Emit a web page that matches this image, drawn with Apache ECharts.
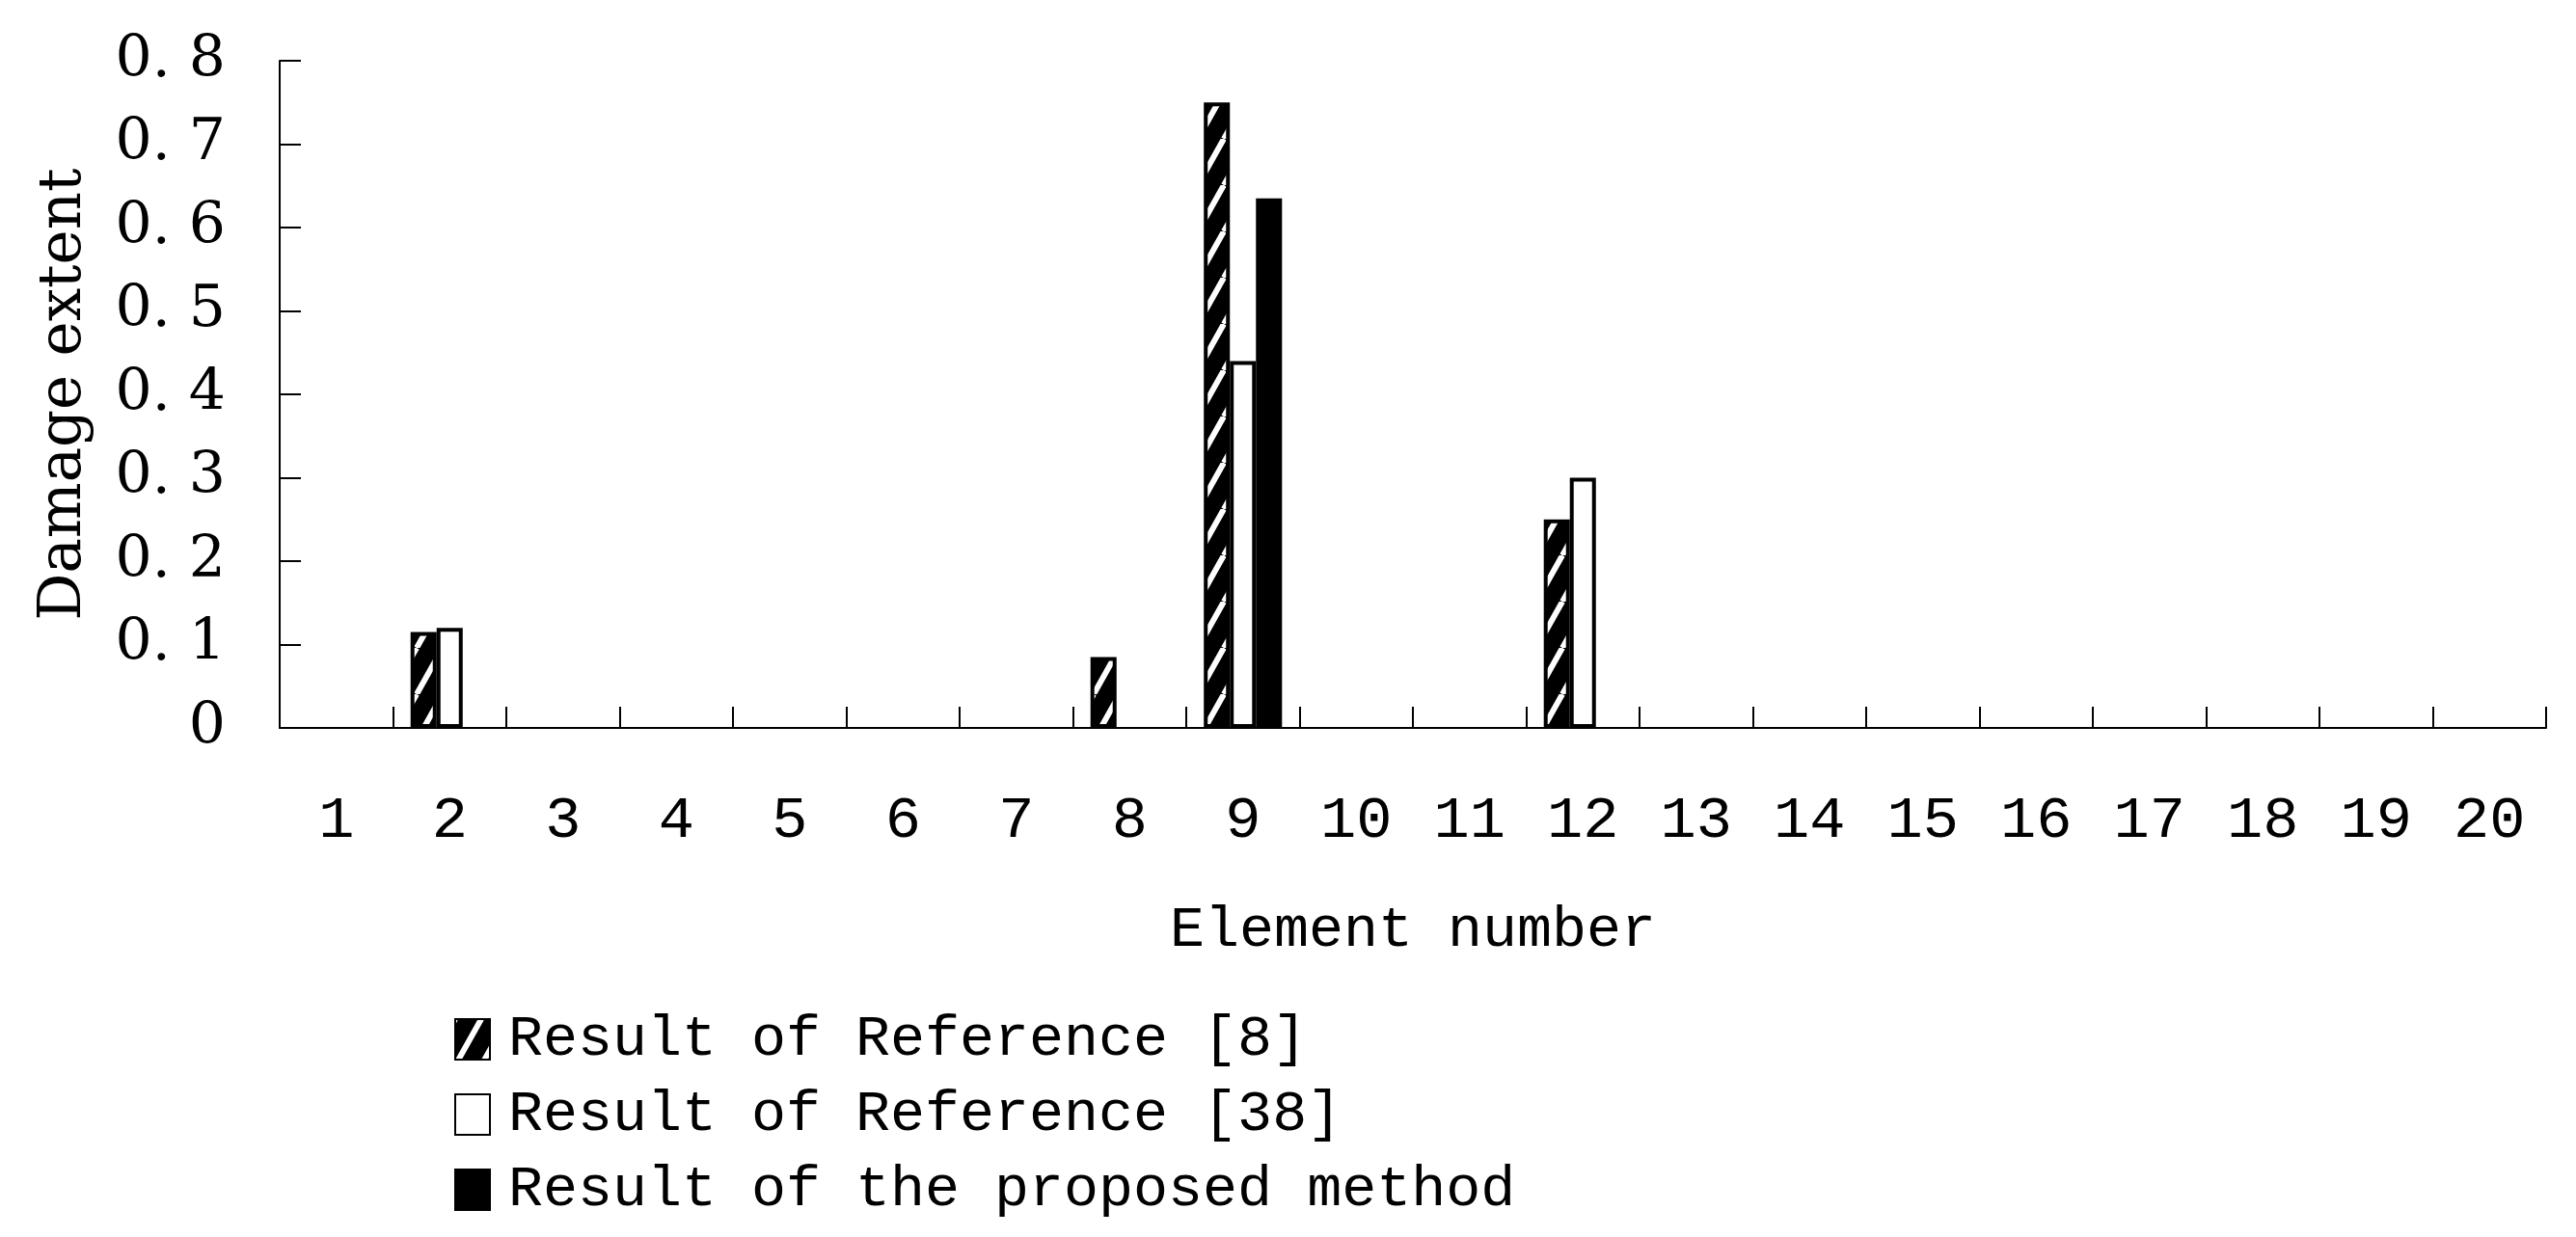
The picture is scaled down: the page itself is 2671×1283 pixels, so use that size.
<!DOCTYPE html>
<html>
<head>
<meta charset="utf-8">
<script src="https://cdn.jsdelivr.net/npm/echarts@6/dist/echarts.min.js"></script>
<style>
html,body{margin:0;padding:0;background:#fff;}
#chart{width:2671px;height:1283px;}
</style>
</head>
<body>
<div id="chart"></div>
<script>
const categories = ['1','2','3','4','5','6','7','8','9','10','11','12','13','14','15','16','17','18','19','20'];
const seriesNames = ['Result of Reference [8]', 'Result of Reference [38]', 'Result of the proposed method'];
const ref8 =     [0, 0.115, 0, 0, 0, 0, 0, 0.085, 0.75, 0, 0, 0.25, 0, 0, 0, 0, 0, 0, 0, 0];
const ref38 =    [0, 0.12,  0, 0, 0, 0, 0, 0,     0.44, 0, 0, 0.30, 0, 0, 0, 0, 0, 0, 0, 0];
const proposed = [0, 0,     0, 0, 0, 0, 0, 0,     0.635,0, 0, 0,    0, 0, 0, 0, 0, 0, 0, 0];
const yTicks = { min: 0, max: 0.8, interval: 0.1 };
const xName = 'Element number';
const yName = 'Damage extent';

// zero-valued bars are not drawn (no outline on the axis)
const visible = arr => arr.map(v => (v === 0 ? '-' : v));

function makeHatch() {
  const c = document.createElement('canvas');
  c.width = 27; c.height = 48;
  const g = c.getContext('2d');
  g.fillStyle = '#000';
  g.fillRect(0, 0, 27, 48);
  g.strokeStyle = '#fff';
  g.lineWidth = 6;
  g.beginPath();
  for (let k = -1; k <= 1; k++) {
    g.moveTo(0 + k * 27, 48);
    g.lineTo(27 + k * 27, 0);
  }
  g.stroke();
  return c;
}
const hatch = { image: makeHatch(), repeat: 'repeat' };

const monoFont = '"Liberation Mono", "DejaVu Sans Mono", monospace';
const serifFont = '"DejaVu Serif", "Liberation Serif", serif';

const chart = echarts.init(document.getElementById('chart'), null, { renderer: 'canvas' });
chart.setOption({
  animation: false,
  backgroundColor: '#fff',
  grid: { left: 290, right: 31, top: 63, bottom: 528, containLabel: false },
  legend: {
    orient: 'vertical',
    left: 466,
    top: 1043,
    icon: 'rect',
    itemWidth: 36,
    itemHeight: 42,
    itemGap: 18,
    data: seriesNames,
    textStyle: { fontFamily: monoFont, fontSize: 60, color: '#000', padding: [0, 0, 0, 14] }
  },
  xAxis: {
    type: 'category',
    data: categories,
    name: xName,
    nameLocation: 'middle',
    nameGap: 180,
    nameTextStyle: { fontFamily: monoFont, fontSize: 60, color: '#000' },
    axisLine: { show: true, lineStyle: { color: '#000', width: 2 } },
    axisTick: { show: true, inside: true, length: 22, alignWithLabel: false, lineStyle: { color: '#000', width: 2 } },
    axisLabel: { fontFamily: monoFont, fontSize: 62, color: '#000', margin: 66, interval: 0 },
    splitLine: { show: false }
  },
  yAxis: {
    type: 'value',
    min: yTicks.min,
    max: yTicks.max,
    interval: yTicks.interval,
    name: yName,
    nameLocation: 'middle',
    nameGap: 192,
    nameTextStyle: { fontFamily: serifFont, fontSize: 61, color: '#000' },
    axisLine: { show: true, lineStyle: { color: '#000', width: 2 } },
    axisTick: { show: true, inside: true, length: 22, lineStyle: { color: '#000', width: 2 } },
    axisLabel: {
      fontFamily: serifFont, fontSize: 60, color: '#000', margin: 56,
      padding: [12, 0, 0, 0],
      formatter: v => (v === 0 ? '0' : v.toFixed(1).replace('.', '. '))
    },
    splitLine: { show: false }
  },
  series: [
    {
      name: seriesNames[0], type: 'bar', data: visible(ref8),
      barGap: '0%', barCategoryGap: '31%',
      itemStyle: { color: hatch, borderColor: '#000', borderWidth: 4 }
    },
    {
      name: seriesNames[1], type: 'bar', data: visible(ref38),
      barGap: '0%', barCategoryGap: '31%',
      itemStyle: { color: '#fff', borderColor: '#000', borderWidth: 4 }
    },
    {
      name: seriesNames[2], type: 'bar', data: visible(proposed),
      barGap: '0%', barCategoryGap: '31%',
      itemStyle: { color: '#000', borderColor: '#000', borderWidth: 4 }
    }
  ]
});
</script>
</body>
</html>
